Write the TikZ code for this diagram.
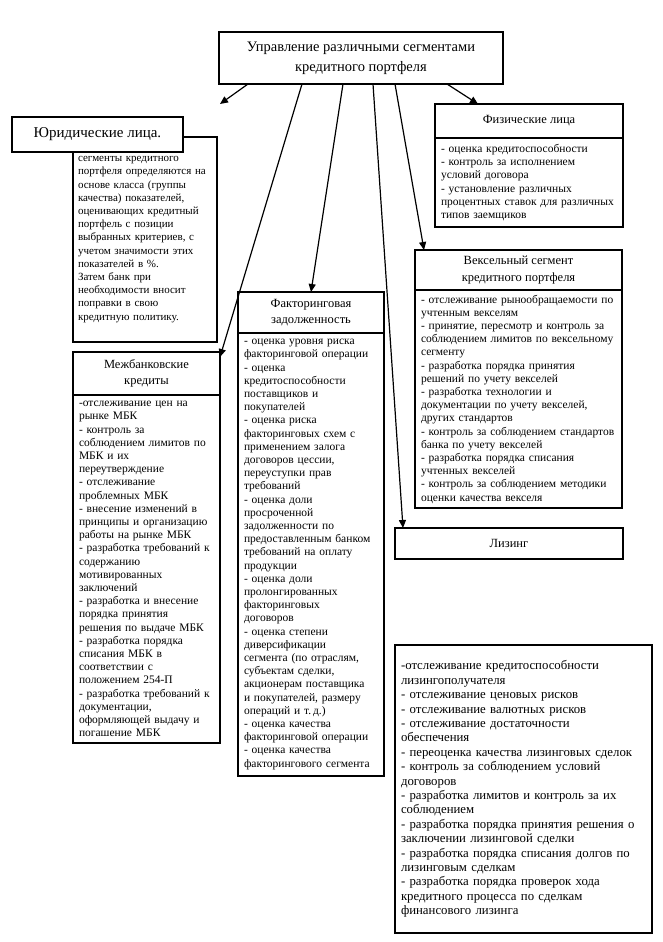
\documentclass[tikz,border=0pt]{standalone}
\usepackage{fontspec}
\setmainfont{Liberation Serif}
\usetikzlibrary{arrows.meta,positioning}

\begin{document}
\begin{tikzpicture}[
  x=1pt,y=-1pt,
  node distance=0pt,
  head/.style={draw,line width=1.2pt,outer sep=0pt,fill=white,align=center,
    font=\fontsize{12.5}{16.5}\selectfont},
  list/.style={draw,line width=1.2pt,outer sep=0pt,align=left,inner xsep=6pt,
    font=\fontsize{11.5}{13.2}\selectfont},
  route/.style={line width=1.2pt,-{Triangle[length=8pt,width=7pt]}}
]
  \useasboundingbox[fill=white] (0,0) rectangle (662,942);

  \node[head,minimum width=284pt,minimum height=52pt,
    font=\fontsize{14.5}{20}\selectfont] (top) at (361,58)
    {Управление различными сегментами\\кредитного портфеля};
  \coordinate (stub) at (220,104);

  \node[list,anchor=north west,text width=134pt,inner xsep=5pt,minimum height=205pt,
    font=\fontsize{11}{13.2}\selectfont] (legalbody) at (73,137)
    {сегменты кредитного\\портфеля определяются на\\основе класса (группы\\качества) показателей,\\оценивающих кредитный\\портфель с позиции\\выбранных критериев, с\\учетом значимости этих\\показателей в \%.\\Затем банк при\\необходимости вносит\\поправки в свою\\кредитную политику.};
  \node[head,anchor=north west,minimum width=171pt,minimum height=35pt,
    font=\fontsize{15}{18}\selectfont] (legal) at (12,117) {Юридические лица.};

  \node[head,anchor=north west,minimum width=188pt,minimum height=34pt] (phys) at (435,104)
    {Физические лица};
  \node[list,below=of phys,text width=176pt,minimum height=89pt] (physbody)
    {- оценка кредитоспособности\\- контроль за исполнением\\условий договора\\- установление различных\\процентных ставок для различных\\типов заемщиков};

  \node[head,anchor=north west,minimum width=207pt,minimum height=40pt] (bill) at (415,250)
    {Вексельный сегмент\\кредитного портфеля};
  \node[list,below=of bill,text width=195pt,minimum height=218pt] (billbody)
    {- отслеживание рынообращаемости по\\учтенным векселям\\- принятие, пересмотр и контроль за\\соблюдением лимитов по вексельному\\сегменту\\- разработка порядка принятия\\решений по учету векселей\\- разработка технологии и\\документации по учету векселей,\\других стандартов\\- контроль за соблюдением стандартов\\банка по учету векселей\\- разработка порядка списания\\учтенных векселей\\- контроль за соблюдением методики\\оценки качества векселя};

  \node[head,anchor=north west,minimum width=146pt,minimum height=41pt] (factor) at (238,292)
    {Факторинговая\\задолженность};
  \node[list,below=of factor,text width=134pt,minimum height=443pt] (factorbody)
    {- оценка уровня риска\\факторинговой операции\\- оценка\\кредитоспособности\\поставщиков и\\покупателей\\- оценка риска\\факторинговых схем с\\применением залога\\договоров цессии,\\переуступки прав\\требований\\- оценка доли\\просроченной\\задолженности по\\предоставленным банком\\требований на оплату\\продукции\\- оценка доли\\пролонгированных\\факторинговых\\договоров\\- оценка степени\\диверсификации\\сегмента (по отраслям,\\субъектам сделки,\\акционерам поставщика\\и покупателей, размеру\\операций и т.\,д.)\\- оценка качества\\факторинговой операции\\- оценка качества\\факторингового сегмента};

  \node[head,anchor=north west,minimum width=147pt,minimum height=43pt] (interbank) at (73,352)
    {Межбанковские\\кредиты};
  \node[list,below=of interbank,text width=135pt,minimum height=348pt] (interbankbody)
    {-отслеживание цен на\\рынке МБК\\- контроль за\\соблюдением лимитов по\\МБК и их\\переутверждение\\- отслеживание\\проблемных МБК\\- внесение изменений в\\принципы и организацию\\работы на рынке МБК\\- разработка требований к\\содержанию\\мотивированных\\заключений\\- разработка и внесение\\порядка принятия\\решения по выдаче МБК\\- разработка порядка\\списания МБК в\\соответствии с\\положением 254-П\\- разработка требований к\\документации,\\оформляющей выдачу и\\погашение МБК};

  \node[head,anchor=north west,minimum width=228pt,minimum height=31pt] (leasing) at (395,528)
    {Лизинг};
  \node[list,anchor=north west,text width=245pt,minimum height=288pt,
    font=\fontsize{12.8}{14.4}\selectfont] (leasingbody) at (395,645)
    {-отслеживание кредитоспособности\\лизингополучателя\\- отслеживание ценовых рисков\\- отслеживание валютных рисков\\- отслеживание достаточности\\обеспечения\\- переоценка качества лизинговых сделок\\- контроль за соблюдением условий\\договоров\\- разработка лимитов и контроль за их\\соблюдением\\- разработка порядка принятия решения о\\заключении лизинговой сделки\\- разработка порядка списания долгов по\\лизинговым сделкам\\- разработка порядка проверок хода\\кредитного процесса по сделкам\\финансового лизинга};

  \draw[route] ([xshift=29pt]top.south west) -- (stub);
  \draw[route] ([xshift=83pt]top.south west) -- ([yshift=-5pt]interbank.north east);
  \draw[route] ([xshift=124pt]top.south west) -- (factor.north);
  \draw[route] ([xshift=154pt]top.south west) -- ([xshift=8pt]leasing.north west);
  \draw[route] ([xshift=176pt]top.south west) -- ([xshift=9pt]bill.north west);
  \draw[route] ([xshift=228pt]top.south west) -- ([xshift=43pt]phys.north west);
\end{tikzpicture}
\end{document}
